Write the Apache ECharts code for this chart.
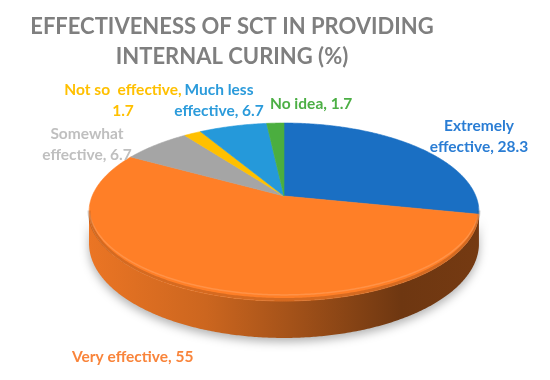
<!DOCTYPE html>
<html>
<head>
<meta charset="utf-8">
<script src="https://cdn.jsdelivr.net/npm/echarts@6/dist/echarts.min.js"></script>
<style>html,body{margin:0;padding:0;background:#fff}#c{width:550px;height:380px}</style>
</head>
<body>
<div id="c"></div>
<script>
// ---- data ----
const titleLines = ['EFFECTIVENESS OF SCT IN PROVIDING', 'INTERNAL CURING (%)'];
const categories = ['Extremely effective', 'Very effective', 'Somewhat effective', 'Not so  effective', 'Much less effective', 'No idea'];
const values = [28.3, 55, 6.7, 1.7, 6.7, 1.7];

// ---- styles / layout (not data) ----
const sliceColors = ['#1A6FC3', '#FF7F27', '#A5A5A5', '#FFC000', '#2599DA', '#4BAE3F'];
const labelColors = ['#2A7DD4', '#F9843A', '#BFBFBF', '#FFC000', '#2B9BDB', '#4CAF45'];
const labelLayout = [
  {x: 479, y: 115, align: 'center', brk: 'Extremely '},
  {x: 72,  y: 346, align: 'left',   brk: null},
  {x: 87,  y: 123, align: 'center', brk: 'Somewhat '},
  {x: 123, y: 79,  align: 'center', brk: ', '},
  {x: 219, y: 79,  align: 'center', brk: 'less '},
  {x: 270, y: 93,  align: 'left',   brk: null}
];
const FONT = 'Lato, "Open Sans", sans-serif';
const cx = 284, cy0 = 196, A = 191.8, B = 86.1, P = 0.18, D0 = 30.3;

function proj(t) {
  const s = 1 / (1 + P * Math.cos(t));
  return [cx + A * Math.sin(t) * s, cy0 - B * Math.cos(t) * s, s];
}
function arc(a, b) {
  const n = Math.max(2, Math.ceil(Math.abs(b - a) / (Math.PI / 360)));
  const pts = [];
  for (let k = 0; k <= n; k++) pts.push(proj(a + (b - a) * k / n));
  return pts;
}
const total = values.reduce((s, v) => s + v, 0);
const starts = [];
{ let c = 0; values.forEach(v => { starts.push(c); c += v; }); }
const ta = Math.acos(-P), tb = 2 * Math.PI - ta;

function shade(hex, f) {
  const n = parseInt(hex.slice(1), 16);
  const r = Math.round(((n >> 16) & 255) * f), g = Math.round(((n >> 8) & 255) * f), b = Math.round((n & 255) * f);
  return 'rgb(' + r + ',' + g + ',' + b + ')';
}
function sideFill(color) {
  return new echarts.graphic.LinearGradient(cx - A * 1.02, 0, cx + A * 1.02, 0, [
    {offset: 0, color: shade(color, 0.92)},
    {offset: 0.3, color: shade(color, 0.8)},
    {offset: 0.55, color: shade(color, 0.62)},
    {offset: 0.8, color: shade(color, 0.43)},
    {offset: 1, color: shade(color, 0.46)}
  ], true);
}

function labelText(i) {
  let t = categories[i] + ', ' + values[i];
  const b = labelLayout[i].brk;
  if (b) t = t.replace(b, b.replace(/ $/, '') + '\n');
  return t;
}

const chart = echarts.init(document.getElementById('c'), null, {renderer: 'canvas'});
chart.setOption({
  animation: false,
  graphic: [{
    type: 'text', x: 232, y: 12,
    style: {
      text: titleLines.join('\n'), fill: '#7F7F7F', font: 'bold 22px ' + FONT,
      align: 'center', verticalAlign: 'top', lineHeight: 30
    }
  }],
  series: [{
    type: 'custom',
    coordinateSystem: 'none',
    data: values,
    renderItem: function (params, api) {
      const i = params.dataIndex;
      const v = api.value(0);
      const s = starts[i] / total * 2 * Math.PI;
      const e = (starts[i] + v) / total * 2 * Math.PI;
      const color = sliceColors[i];
      const children = [];
      const a = Math.max(s, ta), b = Math.min(e, tb);
      if (b > a) {
        const top = arc(a, b);
        const bot = arc(b, a).map(p => [p[0], p[1] + D0 * p[2]]);
        children.push({
          type: 'polygon',
          shape: {points: top.map(p => [p[0], p[1]]).concat(bot)},
          style: {fill: sideFill(color), stroke: null,
                  shadowBlur: 10, shadowColor: 'rgba(0,0,0,0.3)', shadowOffsetY: 4},
          z2: 1
        });
      }
      const topPts = [[cx, cy0]].concat(arc(s, e).map(p => [p[0], p[1]]));
      children.push({
        type: 'polygon',
        shape: {points: topPts},
        style: {fill: color, stroke: color, lineWidth: 0.6},
        z2: 2
      });
      if (b > a) {
        const rim = arc(a, b).map(p => [p[0], p[1] - 1.5]);
        children.push({
          type: 'polyline', shape: {points: rim},
          style: {stroke: 'rgba(0,0,0,0.16)', lineWidth: 3, fill: null}, z2: 3
        });
        const hl = arc(a, b).map(p => [p[0], p[1] - 5 * p[2]]);
        children.push({
          type: 'polyline', shape: {points: hl},
          style: {stroke: 'rgba(255,255,255,0.15)', lineWidth: 1.5, fill: null}, z2: 3
        });
      }
      const L = labelLayout[i];
      children.push({
        type: 'text',
        x: L.x, y: L.y,
        style: {text: labelText(i), fill: labelColors[i], font: 'bold 15.5px ' + FONT,
                align: L.align, verticalAlign: 'top', lineHeight: 21},
        z2: 5
      });
      return {type: 'group', children: children};
    }
  }]
});
</script>
</body>
</html>
